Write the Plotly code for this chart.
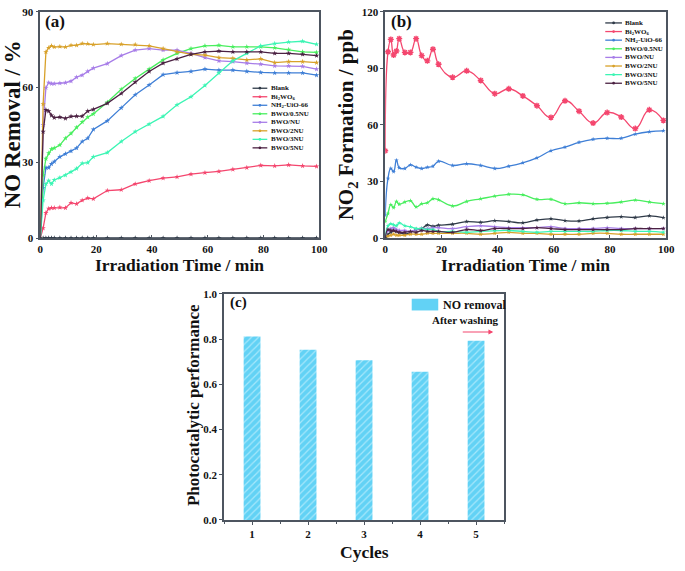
import plotly.graph_objects as go

W, H = 685, 571

# ---------------- data ----------------
time_min = [0, 1, 2, 3, 4, 5, 7, 9, 11, 13, 15, 17, 19, 24, 29, 34, 39, 44, 49, 54, 59, 64, 69, 74, 79, 84, 89, 94, 99]

series_names = ["Blank", "Bi<sub>2</sub>WO<sub>6</sub>", "NH<sub>2</sub>-UiO-66", "BWO/0.5NU",
                "BWO/NU", "BWO/2NU", "BWO/3NU", "BWO/5NU"]
series_colors = ["#2f3a48", "#f4466e", "#3f7fd6", "#48ee5e", "#a77de8", "#d8a12a", "#3cf5b4", "#4b2142"]

# (a) NO removal (%)
no_blank = [0] * 29
no_bwo = [0, 3.9, 10, 11.7, 12, 12, 12.2, 12, 14, 13.6, 15, 15.9, 15.6, 18.9, 19.2, 21.5, 22.8, 23.8, 24.3, 25.4, 26, 26.5, 27.3, 28, 28.9, 28.7, 29.1, 28.7, 28.5]
no_nu66 = [0, 20, 28, 28, 29.5, 30.4, 32.3, 33.5, 34.6, 35.8, 38.4, 39.7, 43.2, 46.6, 51.8, 57, 60.9, 65, 65.8, 66.3, 67.2, 66.8, 66.8, 66.3, 65.9, 65.7, 65.7, 65.7, 64.8]
no_05nu = [0, 25, 31.6, 33.8, 35.4, 35.8, 37, 39.7, 41.6, 44, 46.2, 48.1, 49.4, 54, 59.2, 63.5, 67.2, 70.9, 73.5, 75.4, 76.5, 76.7, 76.1, 76.1, 76.1, 75.7, 75, 74.1, 73.9]
no_nu = [0, 45, 59.8, 61.8, 61.4, 61.4, 61.6, 61.8, 62.4, 64, 64.8, 66.3, 67.6, 69.4, 72.6, 74.8, 75.4, 74.8, 74.8, 73.5, 71.8, 70.5, 70.2, 69.6, 69.2, 68.5, 68.5, 68.3, 67.2]
no_2nu = [0, 53.3, 74, 75.7, 76.5, 76, 76.2, 76, 76.7, 76.7, 77.4, 77.3, 77, 77.4, 77.1, 77, 76.5, 75.4, 74.1, 73.1, 72.8, 71.8, 71.5, 70.9, 71.3, 69.8, 70.2, 70.2, 69.8]
no_3nu = [0, 15, 21.5, 22.8, 21.5, 23.1, 24, 25, 26.3, 27.6, 29.7, 30, 32.3, 34, 38.4, 42.3, 45.3, 48.4, 53, 56.2, 60.7, 65.7, 70.5, 73.5, 76.5, 77.4, 78, 78.3, 77.1]
no_5nu = [0, 42.3, 51, 50.5, 48.8, 47.9, 48.1, 47.6, 48.4, 48.5, 48.5, 50.5, 51.2, 53.6, 57.5, 62, 66.3, 69.6, 71.3, 73.1, 74.1, 74.4, 74.1, 74.1, 74.1, 73.5, 73.5, 73.1, 72.6]

# (b) NO2 formation (ppb)
no2_blank = [0, 2, 3, 4, 3.5, 3, 2, 3, 4.5, 5, 6.9, 6.2, 6.8, 7.3, 8.7, 8.3, 9.2, 8.7, 8.1, 9.5, 10.2, 9.2, 9, 10.2, 10.9, 11.3, 10.9, 11.8, 10.8]
no2_bwo = [46.3, 98.8, 105.4, 97.1, 99.2, 105.8, 98.5, 98.5, 105.8, 96.8, 94, 100.2, 92.2, 85.3, 88.7, 83.6, 76.6, 79.2, 75.4, 70.2, 64, 72.8, 67.3, 61, 66.6, 64.2, 58.1, 68, 62.4]
no2_nu66 = [12.1, 31.6, 36.9, 35.2, 41.3, 37.3, 36.9, 38.8, 37.6, 36.9, 37.5, 38.1, 40.7, 38.5, 39.4, 38.5, 36.9, 38.1, 39.9, 42.5, 46.3, 48.2, 50.8, 52.4, 52.9, 52.9, 55.1, 56.4, 56.9]
no2_05nu = [8.7, 13, 17.7, 16.1, 19.4, 17.9, 19.1, 19.8, 16.5, 18.2, 18.7, 20.8, 20.3, 17, 19.4, 20.8, 22.2, 23.2, 22.9, 20.5, 20.5, 18.2, 18.7, 18.2, 18.4, 19.1, 20.1, 19.1, 18.2]
no2_nu = [0, 4, 5, 5.5, 4.5, 4, 4, 3.5, 4.5, 5, 5, 5.5, 5.5, 5, 6, 6.5, 6, 5.5, 5.5, 5.5, 6, 5, 5, 5, 5.5, 5, 5, 5, 5]
no2_2nu = [0, 1, 1.5, 2, 1.5, 1.5, 1.5, 2, 2, 2, 2.5, 2.5, 2.5, 2.5, 2.5, 2, 2.5, 3, 2.5, 2.5, 2, 2, 2, 2.5, 2.5, 2, 2, 2, 2]
no2_3nu = [0, 6.5, 7.5, 7, 6.5, 8, 6.5, 6, 5, 5, 4.5, 4.5, 3.5, 3.5, 3, 3.5, 3.8, 4, 3.5, 3, 3.5, 3.5, 3.5, 3.5, 4, 4, 3.5, 3.5, 3]
no2_5nu = [0, 4.5, 4, 4, 3.5, 3, 3, 3.5, 3, 4, 3.5, 3.5, 3.5, 3, 4.5, 4, 5, 5, 5, 5.5, 5, 4.5, 4.5, 4.5, 4.5, 4.5, 5, 5, 5]

# (c) cycling
cycles = [1, 2, 3, 4, 5]
performance = [0.811, 0.753, 0.706, 0.655, 0.792]

a_series = [no_blank, no_bwo, no_nu66, no_05nu, no_nu, no_2nu, no_3nu, no_5nu]
b_series = [no2_blank, no2_bwo, no2_nu66, no2_05nu, no2_nu, no2_2nu, no2_3nu, no2_5nu]

FONT = "Liberation Serif"
FRAME = "#4d5560"
RED = "#f4466e"

def px(x):
    return x / W

def py(y):
    return 1 - y / H

fig = go.Figure()

# (a)
for name, col, vals in zip(series_names, series_colors, a_series):
    fig.add_trace(go.Scatter(x=time_min, y=vals, mode="lines+markers", name=name,
                             line=dict(color=col, width=1.3),
                             marker=dict(symbol="star", size=4, color=col),
                             xaxis="x", yaxis="y", showlegend=False))
# (b)
for name, col, vals in zip(series_names, series_colors, b_series):
    is_red = col == RED
    fig.add_trace(go.Scatter(x=time_min, y=vals, mode="lines+markers", name=name,
                             line=dict(color=col, width=1.3, shape="spline", smoothing=1.3),
                             marker=dict(symbol="asterisk-open" if is_red else "star",
                                         size=5 if is_red else 3.5, color=col,
                                         line=dict(color=col, width=1.4 if is_red else 0)),
                             xaxis="x2", yaxis="y2", showlegend=False))
# (c)
fig.add_trace(go.Bar(x=cycles, y=performance, width=0.3, name="NO removal",
                     marker=dict(color="#62d2f5", line=dict(width=0),
                                 pattern=dict(shape="/", fgcolor="#a5e7fb", bgcolor="#62d2f5",
                                              size=5, solidity=0.25, fgopacity=1)),
                     xaxis="x3", yaxis="y3", showlegend=False))

tickfont = dict(family=FONT, size=11, color="#111", weight="bold")
common = dict(showline=True, mirror=True, linecolor=FRAME, linewidth=1.6, showgrid=False,
              zeroline=False, tickcolor=FRAME, tickwidth=1.2, tickfont=tickfont)

fig.update_layout(
    width=W, height=H, margin=dict(l=0, r=0, t=0, b=0),
    paper_bgcolor="white", plot_bgcolor="white",
    font=dict(family=FONT, color="#111"),
    xaxis=dict(domain=[px(38), px(322)], range=[0, 100], dtick=20, anchor="y",
               ticks="inside", ticklen=3, **common),
    yaxis=dict(domain=[py(237), py(6)], range=[0, 90], dtick=30, anchor="x",
               ticks="outside", ticklen=3, **common),
    xaxis2=dict(domain=[px(389), px(675)], range=[0, 100], dtick=20, anchor="y2",
                ticks="inside", ticklen=3, **common),
    yaxis2=dict(domain=[py(237), py(6)], range=[0, 120], dtick=30, anchor="x2",
                ticks="outside", ticklen=3, **common),
    xaxis3=dict(domain=[px(225), px(510)], range=[0.5, 5.5], dtick=1, anchor="y3",
                ticks="outside", ticklen=3,
                minor=dict(dtick=0.5, ticks="outside", ticklen=2, tickcolor=FRAME), **common),
    yaxis3=dict(domain=[py(525), py(294)], range=[0, 1.0], dtick=0.2, tickformat=".1f",
                anchor="x3", ticks="outside", ticklen=3, **common),
)

ann = []
# axis titles
ann.append(dict(text="<b>NO Removal / %</b>", x=px(10), y=py(121), textangle=-90,
                font=dict(size=23, family=FONT)))
ann.append(dict(text="<b>NO<sub>2</sub> Formation / ppb</b>", x=px(351), y=py(121), textangle=-90,
                font=dict(size=21, family=FONT)))
ann.append(dict(text="<b>Photocatalytic performance</b>", x=px(194), y=py(408), textangle=-90,
                font=dict(size=17, family=FONT)))
ann.append(dict(text="<b>Irradiation Time / min</b>", x=px(180), y=py(265),
                font=dict(size=17.5, family=FONT)))
ann.append(dict(text="<b>Irradiation Time / min</b>", x=px(532), y=py(265),
                font=dict(size=17.5, family=FONT)))
ann.append(dict(text="<b>Cycles</b>", x=px(368), y=py(558), font=dict(size=17.5, family=FONT)))
# panel labels
ann.append(dict(text="<b>(a)</b>", x=px(53), y=py(16), font=dict(size=17, family=FONT)))
ann.append(dict(text="<b>(b)</b>", x=px(406), y=py(16), font=dict(size=17, family=FONT)))
ann.append(dict(text="<b>(c)</b>", x=px(240), y=py(303), font=dict(size=15, family=FONT)))

shapes = []

def draw_legend(x0, x1, xt, ytop, step):
    for i, (name, col) in enumerate(zip(series_names, series_colors)):
        yy = ytop + i * step
        shapes.append(dict(type="line", xref="paper", yref="paper", x0=px(x0), x1=px(x1),
                           y0=py(yy), y1=py(yy), line=dict(color=col, width=1.3)))
        xm = (x0 + x1) / 2
        shapes.append(dict(type="circle", xref="paper", yref="paper", x0=px(xm - 1.4), x1=px(xm + 1.4),
                           y0=py(yy + 1.4), y1=py(yy - 1.4), fillcolor=col, line=dict(width=0)))
        ann.append(dict(text="<b>" + name + "</b>", x=px(xt), y=py(yy), xanchor="left",
                        font=dict(size=7, family=FONT)))

draw_legend(254, 269, 271, 84, 8.7)
draw_legend(613, 630, 631, 17.3, 8.8)

# (c) legend
shapes.append(dict(type="rect", xref="paper", yref="paper", x0=px(416), x1=px(443),
                   y0=py(311), y1=py(299), fillcolor="#62d2f5", line=dict(width=0)))
ann.append(dict(text="<b>NO removal</b>", x=px(446), y=py(305), xanchor="left",
                font=dict(size=12, family=FONT)))
ann.append(dict(text="<b>After washing</b>", x=px(507), y=py(321), xanchor="right",
                font=dict(size=11, family=FONT)))
ann.append(dict(text="", x=px(499), y=py(333), ax=-32, ay=0, axref="pixel", ayref="pixel",
                showarrow=True, arrowhead=2, arrowsize=0.8,
                arrowwidth=1.2, arrowcolor=RED))

for a in ann:
    a.setdefault("xref", "paper")
    a.setdefault("yref", "paper")
    a.setdefault("showarrow", False)
    a.setdefault("xanchor", "center")
    a.setdefault("yanchor", "middle")

fig.update_layout(annotations=ann, shapes=shapes)
fig.write_html("out.html", config={"displayModeBar": False},
               post_script="document.body.style.margin='0';document.body.style.padding='0';")
